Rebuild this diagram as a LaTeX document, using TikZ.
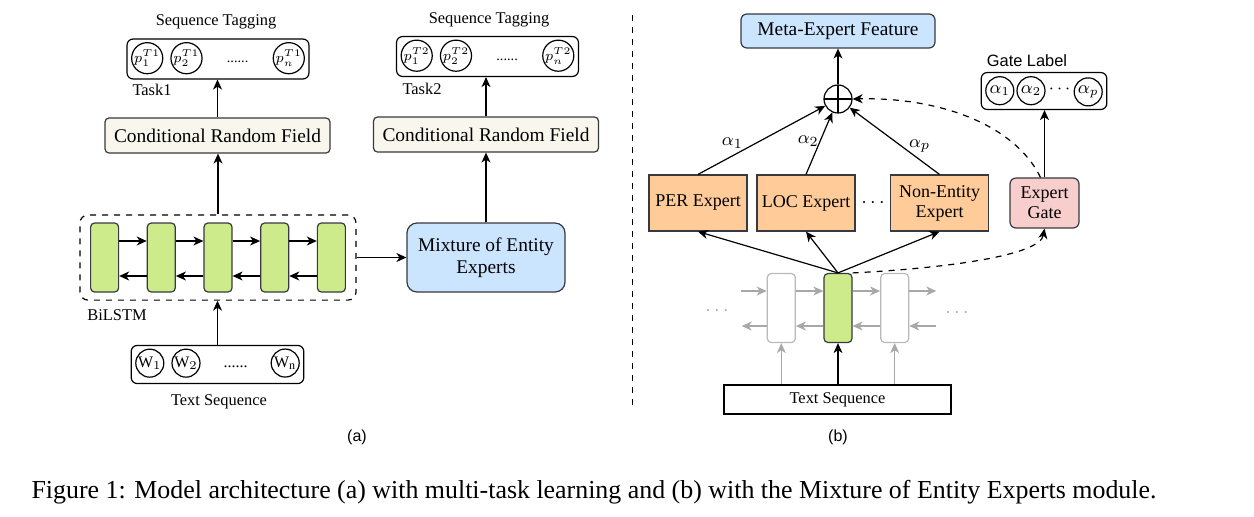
\documentclass[tikz,border=0pt]{standalone}
\usepackage{fontspec}
\setmainfont{Liberation Serif}
\setsansfont{Liberation Sans}
\usepackage{tikz}
\usetikzlibrary{matrix, positioning, arrows.meta}

\definecolor{crfcream}{HTML}{F9F7ED}
\definecolor{lstmgreen}{HTML}{CDEB8B}
\definecolor{moeblue}{HTML}{CCE5FF}
\definecolor{expertorange}{HTML}{FFCC99}
\definecolor{gatepink}{HTML}{F8CECC}
\definecolor{edgegrey}{HTML}{36393D}
\definecolor{fadegrey}{HTML}{A8A8A8}

\begin{document}
\begin{tikzpicture}[x=0.5pt, y=-0.5pt, line width=0.6pt, >={Stealth[length=5pt,width=4.5pt,inset=1.5pt]}]
	
	\tikzset{token row/.style={
			matrix of nodes,
			draw, rounded corners=3pt,
			inner xsep=2pt, inner ysep=1.5pt,
			column sep=#1,
			nodes={circle, draw, solid,
				minimum size=14pt,
				inner sep=0pt,
				font=\fontsize{7.2}{8}\selectfont
			},
		},
		token row/.default=3.5pt,
		gap cell/.style={rectangle, draw=none, minimum width=#1},
		label text/.style={font=\fontsize{8.2}{10}\selectfont},
		weight label/.style={font=\fontsize{9.5}{11}\selectfont},
		crf box/.style={draw=edgegrey, fill=crfcream, rounded corners=2pt,
			minimum width=112.5pt, minimum height=17.5pt,
			font=\fontsize{9.7}{11}\selectfont},
		moe box/.style={draw=edgegrey, fill=moeblue, rounded corners=5pt,
			minimum width=79pt, minimum height=34.5pt, align=center,
			font=\fontsize{9.7}{11}\selectfont},
		lstm cell/.style={draw=edgegrey, fill=lstmgreen, rounded corners=2pt, solid,
			minimum width=14pt, minimum height=34.5pt, inner sep=0pt},
		ghost cell/.style={lstm cell, draw=fadegrey!80, fill=white},
		expert box/.style={draw=edgegrey, fill=expertorange,
			minimum width=49pt, minimum height=28pt, inner sep=2pt, align=center,
			font=\fontsize{9}{10}\selectfont},
		gate box/.style={draw=edgegrey, fill=gatepink, rounded corners=3pt,
			minimum width=34.5pt, minimum height=25pt, inner sep=2pt, align=center,
			font=\fontsize{9}{10}\selectfont},
		faded/.style={->, draw=fadegrey}
	}
	
	\useasboundingbox (0,0) rectangle (1254,516);
	
	% (a) multi-task model
	\node[label text] (tagAtitle) at (216,22) {Sequence Tagging};
	\matrix[token row] (tagA) at (218,59)
	{
		$p_1^{T1}$ & $p_2^{T1}$ & |[gap cell=28pt]| ...... & $p_n^{T1}$ \\
	};
	\node[label text] (taskA) at (152,90) {Task1};
	\node[crf box] (crfA) at (217.5,135.5) {Conditional Random Field};
	
	\matrix[draw, dashed, rounded corners=4pt, inner xsep=5pt, inner ysep=3.75pt,
	column sep=13.75pt] (bilstm) at (218,257.5)
	{
		\node[lstm cell] (h1) {}; & \node[lstm cell] (h2) {}; & \node[lstm cell] (h3) {}; &
		\node[lstm cell] (h4) {}; & \node[lstm cell] (h5) {}; \\
	};
	\node[label text] (bilstmname) at (117,315) {BiLSTM};
	\node[moe box] (moe) at (486,257.5) {Mixture of Entity\\Experts};
	
	\matrix[token row, nodes={font=\fontsize{8}{9}\selectfont}] (wordA) at (217.5,364.5)
	{
		W$_1$ & W$_2$ & |[gap cell=28pt]| ...... & W$_{\mathrm{n}}$ \\
	};
	\node[label text] (textA) at (219,402) {Text Sequence};
	
	\node[label text] (tagBtitle) at (489,20) {Sequence Tagging};
	\matrix[token row] (tagB) at (487.5,56.5)
	{
		$p_1^{T2}$ & $p_2^{T2}$ & |[gap cell=28pt]| ...... & $p_n^{T2}$ \\
	};
	\node[label text] (taskB) at (422,89) {Task2};
	\node[crf box] (crfB) at (486,134.5) {Conditional Random Field};
	\node[font=\sffamily\fontsize{8}{10}\selectfont] (capA) at (357,437) {(a)};
	
	\draw[->] ([yshift=8.25pt]h1.east) -- ([yshift=8.25pt]h2.west);
	\draw[->] ([yshift=8.25pt]h2.east) -- ([yshift=8.25pt]h3.west);
	\draw[->] ([yshift=8.25pt]h3.east) -- ([yshift=8.25pt]h4.west);
	\draw[->] ([yshift=8.25pt]h4.east) -- ([yshift=8.25pt]h5.west);
	\draw[->] ([yshift=-9.25pt]h5.west) -- ([yshift=-9.25pt]h4.east);
	\draw[->] ([yshift=-9.25pt]h4.west) -- ([yshift=-9.25pt]h3.east);
	\draw[->] ([yshift=-9.25pt]h3.west) -- ([yshift=-9.25pt]h2.east);
	\draw[->] ([yshift=-9.25pt]h2.west) -- ([yshift=-9.25pt]h1.east);
	
	\draw[->] (wordA.north) -- (wordA.north |- bilstm.south);
	\draw[->] (bilstm.north) -- (bilstm.north |- crfA.south);
	\draw[->] (crfA.north) -- (crfA.north |- tagA.south);
	\draw[->] (bilstm.east) -- (moe.west);
	\draw[->] (moe.north) -- (moe.north |- crfB.south);
	\draw[->] (crfB.north) -- (crfB.north |- tagB.south);
	
	\draw[dashed, line width=0.5pt] (632,15) -- (632,408);
	
	% (b) mixture of entity experts
	\node[moe box, rounded corners=3pt, minimum width=97pt, minimum height=17pt] (meta) at (838,31) {Meta-Expert Feature};
	\node[circle, draw, minimum size=14pt, inner sep=0pt,
	path picture={\draw (path picture bounding box.north) -- (path picture bounding box.south)
		(path picture bounding box.west) -- (path picture bounding box.east);}] (sum) at (838,99) {};
	
	\node[expert box] (per) at (698,203) {PER Expert};
	\node[expert box] (loc) at (806,203) {LOC Expert};
	\node (more) at (873,203) {$\cdots$};
	\node[expert box] (nonent) at (939.5,203) {Non-Entity\\Expert};
	\node[gate box] (gate) at (1044.5,203) {Expert\\Gate};
	
	\node[font=\sffamily\fontsize{8.2}{10}\selectfont] (gatetitle) at (1027,61) {Gate Label};
	\matrix[token row=1pt, nodes={font=\fontsize{9}{10}\selectfont}] (gateA) at (1044,91)
	{
		$\alpha_1$ & $\alpha_2$ & |[gap cell=12pt]| $\cdots$ & $\alpha_p$ \\
	};
	
	\matrix[column sep=13.75pt] (stack) at (838,308)
	{
		\node[ghost cell] (g1) {}; & \node[lstm cell] (g2) {}; & \node[ghost cell] (g3) {}; \\
	};
	\node[draw, minimum width=113.5pt, minimum height=14.5pt, label text] (textB) at (837.5,399.5) {Text Sequence};
	\node[text=fadegrey] (dotsL) at (717,311) {$\cdots$};
	\node[text=fadegrey] (dotsR) at (957,313) {$\cdots$};
	\node[font=\sffamily\fontsize{8}{10}\selectfont] (capB) at (838,437) {(b)};
	
	\coordinate (fwdin) at ([xshift=-13pt, yshift=8.5pt]g1.west);
	\coordinate (fwdout) at ([xshift=13.5pt, yshift=8.5pt]g3.east);
	\coordinate (bwdin) at ([xshift=13.5pt, yshift=-9pt]g3.east);
	\coordinate (bwdout) at ([xshift=-12.5pt, yshift=-9pt]g1.west);
	\draw[faded] (fwdin) -- ([yshift=8.5pt]g1.west);
	\draw[faded] ([yshift=8.5pt]g1.east) -- ([yshift=8.5pt]g2.west);
	\draw[faded] ([yshift=8.5pt]g2.east) -- ([yshift=8.5pt]g3.west);
	\draw[faded] ([yshift=8.5pt]g3.east) -- (fwdout);
	\draw[faded] (bwdin) -- ([yshift=-9pt]g3.east);
	\draw[faded] ([yshift=-9pt]g3.west) -- ([yshift=-9pt]g2.east);
	\draw[faded] ([yshift=-9pt]g2.west) -- ([yshift=-9pt]g1.east);
	\draw[faded] ([yshift=-9pt]g1.west) -- (bwdout);
	\draw[faded] (textB.north -| g1) -- (g1.south);
	\draw[faded] (textB.north -| g3) -- (g3.south);
	\draw[->] (textB.north -| g2) -- (g2.south);
	
	\draw[->] (g2.north) -- (per.south);
	\draw[->] (g2.north) -- (loc.south);
	\draw[->] (g2.north) -- (nonent.south);
	
	\draw[->] (per.north) -- (sum) node[pos=0.27, above, weight label] {$\alpha_1$};
	\draw[->] (loc.north) -- (sum) node[pos=0.54, left, inner sep=0.5pt, weight label] {$\alpha_2$};
	\draw[->] (nonent.north) -- (sum) node[pos=0.42, right, weight label] {$\alpha_p$};
	\draw[->] (sum) -- (meta);
	
	\draw[->] (gate.north) -- (gate.north |- gateA.south);
	\draw[->, dashed] ([xshift=-2pt]gate.north) .. controls (1015,125) and (940,97) .. (sum.east);
	\draw[->, dashed] (g2.north east) .. controls (950,268) and (1040,255) .. (gate.south);
	
	\node[font=\fontsize{12.95}{15}\selectfont] (caption) at (594,492) {Figure 1: Model architecture (a) with multi-task learning and (b) with the Mixture of Entity Experts module.};
	
\end{tikzpicture}
\end{document}
